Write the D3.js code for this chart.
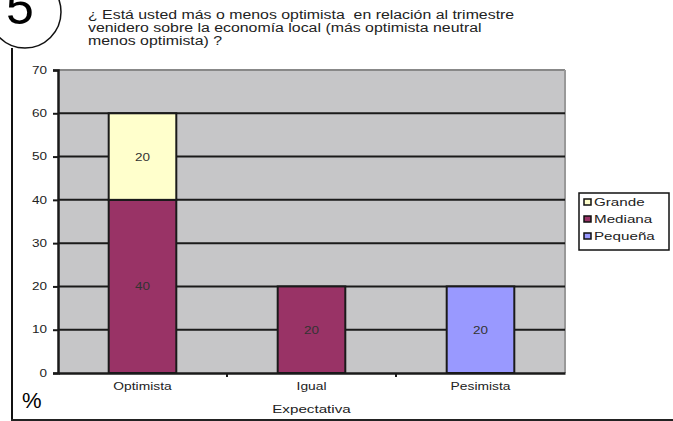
<html>
  <head>
    <script src="https://d3js.org/d3.v7.min.js"></script>
    <style>
      body { margin: 0; background: white; }
      text { font-family: "Liberation Sans", Arial, sans-serif; fill: #222; }
      .grid line { stroke: #1a1a1a; stroke-width: 2; }
    </style>
  </head>
  <body>
    <svg id="chart" width="673" height="421"></svg>
    <script>
      var categories = ['Optimista', 'Igual', 'Pesimista'];
      var seriesNames = ['Pequeña', 'Mediana', 'Grande'];
      var pequena = [0, 0, 20];
      var mediana = [40, 20, 0];
      var grande = [20, 0, 0];
      var yTicks = [0, 10, 20, 30, 40, 50, 60, 70];
      var titleLines = [
        '¿ Está usted más o menos optimista  en relación al trimestre',
        'venidero sobre la economía local (más optimista neutral',
        'menos optimista) ?'
      ];
      var colors = { 'Grande': '#FFFFCC', 'Mediana': '#993366', 'Pequeña': '#9999FF' };

      // the original picture is stretched sideways, so widen the glyphs
      function widen(sel, k) {
        sel.each(function() {
          var len = this.getComputedTextLength();
          d3.select(this).attr('textLength', len * k).attr('lengthAdjust', 'spacingAndGlyphs');
        });
      }

      var svg = d3.select('#chart');
      var plot = { left: 58, right: 565, top: 70, bottom: 373 };

      // outer frame
      svg.append('circle').attr('cx', 25).attr('cy', 12).attr('r', 36)
        .attr('fill', 'white').attr('stroke', '#111').attr('stroke-width', 1.5);
      svg.append('text').attr('x', 20).attr('y', 24).attr('text-anchor', 'middle')
        .style('font-size', '50px').style('fill', '#000').text('5');
      svg.append('line').attr('x1', 12).attr('x2', 12).attr('y1', 48).attr('y2', 421)
        .attr('stroke', '#111').attr('stroke-width', 2);
      svg.append('line').attr('x1', 11).attr('x2', 673).attr('y1', 420).attr('y2', 420)
        .attr('stroke', '#222').attr('stroke-width', 2);

      var title = svg.append('g').selectAll('text').data(titleLines).join('text')
        .attr('x', 88).attr('y', function(d, i) { return 19 + i * 13; })
        .style('font-size', '12.5px').style('white-space', 'pre').text(function(d) { return d; });
      widen(title, 1.27);

      var x = d3.scaleBand().domain(categories).range([plot.left, plot.right]).paddingInner(0).paddingOuter(0);
      var y = d3.scaleLinear().domain([0, 70]).range([plot.bottom, plot.top]);
      var barW = x.bandwidth() * 0.4;

      svg.append('rect').attr('x', plot.left).attr('y', plot.top)
        .attr('width', plot.right - plot.left).attr('height', plot.bottom - plot.top)
        .attr('fill', '#C6C6C8');
      svg.append('line').attr('x1', plot.left).attr('x2', plot.right).attr('y1', plot.top).attr('y2', plot.top)
        .attr('stroke', '#888').attr('stroke-width', 2);
      svg.append('line').attr('x1', plot.right).attr('x2', plot.right).attr('y1', plot.top).attr('y2', plot.bottom)
        .attr('stroke', '#999').attr('stroke-width', 2);

      svg.append('g').attr('class', 'grid').selectAll('line').data(yTicks.filter(function(d) { return d > 0 && d < 70; }))
        .join('line').attr('x1', plot.left).attr('x2', plot.right)
        .attr('y1', function(d) { return y(d); }).attr('y2', function(d) { return y(d); });

      // stacked bars
      var table = categories.map(function(c, i) {
        return { cat: c, 'Pequeña': pequena[i], 'Mediana': mediana[i], 'Grande': grande[i] };
      });
      var stack = d3.stack().keys(seriesNames)(table);
      stack.forEach(function(layer) {
        var g = svg.append('g');
        var segs = layer.filter(function(d) { return d[1] - d[0] > 0; });
        g.selectAll('rect').data(segs).join('rect')
          .attr('x', function(d) { return x(d.data.cat) + (x.bandwidth() - barW) / 2; })
          .attr('y', function(d) { return y(d[1]); })
          .attr('width', barW)
          .attr('height', function(d) { return y(d[0]) - y(d[1]); })
          .attr('fill', colors[layer.key]).attr('stroke', '#1a1a1a').attr('stroke-width', 2);
        var lbl = g.selectAll('text').data(segs).join('text')
          .attr('x', function(d) { return x(d.data.cat) + x.bandwidth() / 2; })
          .attr('y', function(d) { return y((d[0] + d[1]) / 2) + 4; })
          .attr('text-anchor', 'middle').style('font-size', '10px').style('fill', '#333')
          .text(function(d) { return d[1] - d[0]; });
        widen(lbl, 1.35);
      });

      // axes
      var yAxis = d3.axisLeft(y).tickValues(yTicks).tickSize(5).tickPadding(6);
      var gy = svg.append('g').attr('transform', 'translate(' + plot.left + ',0)').call(yAxis);
      gy.select('.domain').attr('stroke', '#1a1a1a').attr('stroke-width', 2.5);
      gy.selectAll('.tick line').attr('stroke', '#1a1a1a').attr('stroke-width', 2);
      gy.selectAll('.tick text').style('font-size', '10px').style('font-family', 'Liberation Sans, Arial, sans-serif').attr('fill', '#222');
      widen(gy.selectAll('.tick text'), 1.35);

      var xAxis = d3.axisBottom(x).tickSize(0).tickPadding(10);
      var gx = svg.append('g').attr('transform', 'translate(0,' + plot.bottom + ')').call(xAxis);
      gx.select('.domain').attr('stroke', '#1a1a1a').attr('stroke-width', 2.5);
      gx.selectAll('.tick text').style('font-size', '10px').style('font-family', 'Liberation Sans, Arial, sans-serif').attr('fill', '#222');
      widen(gx.selectAll('.tick text'), 1.38);
      gx.selectAll('.sep').data(categories.slice(1)).join('line').attr('class', 'sep')
        .attr('x1', function(d) { return x(d); }).attr('x2', function(d) { return x(d); })
        .attr('y1', 0).attr('y2', 4).attr('stroke', '#1a1a1a').attr('stroke-width', 2);

      var xt = svg.append('text').attr('x', (plot.left + plot.right) / 2).attr('y', 413)
        .attr('text-anchor', 'middle').style('font-size', '11px').text('Expectativa');
      widen(xt, 1.38);
      svg.append('text').attr('x', 22).attr('y', 408)
        .style('font-size', '22px').style('fill', '#000').text('%');

      // legend
      var legend = svg.append('g').attr('transform', 'translate(579,193)');
      legend.append('rect').attr('width', 90).attr('height', 57)
        .attr('fill', 'white').attr('stroke', '#111').attr('stroke-width', 1.5);
      var items = legend.selectAll('g').data(seriesNames.slice().reverse()).join('g')
        .attr('transform', function(d, i) { return 'translate(5,' + (9 + i * 17) + ')'; });
      items.append('rect').attr('x', 0).attr('y', -3).attr('width', 7).attr('height', 6)
        .attr('fill', function(d) { return colors[d]; }).attr('stroke', '#111').attr('stroke-width', 1.5);
      var lt = items.append('text').attr('x', 10).attr('y', 4).style('font-size', '11px').text(function(d) { return d; });
      widen(lt, 1.38);
    </script>
  </body>
</html>
